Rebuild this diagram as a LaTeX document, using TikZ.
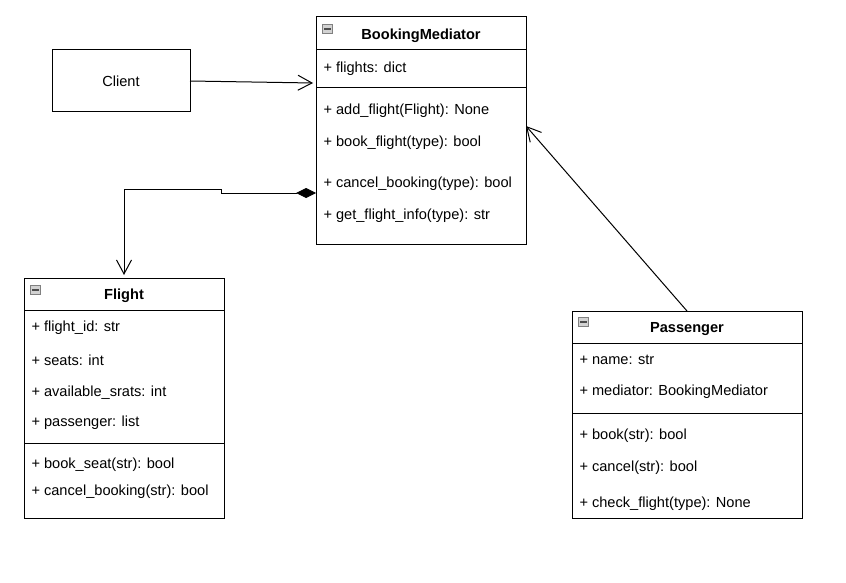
\documentclass[tikz,border=0pt]{standalone}
\usepackage{fontspec}
\setmainfont{Liberation Sans}
\usetikzlibrary{arrows.meta,calc}
\begin{document}
\begin{tikzpicture}[x=1pt,y=-1pt, line width=1pt,
  box/.style={draw, anchor=north west, inner sep=0pt, outer sep=0pt},
  row/.style={anchor=west, inner sep=0pt, font=\fontsize{14.6}{17}\selectfont},
  ttl/.style={inner sep=0pt, font=\bfseries\fontsize{14.6}{17}\selectfont},
  icon/.style={draw=gray, fill=gray!35, line width=0.8pt, minimum width=10pt, minimum height=9pt, inner sep=0pt, anchor=north west},
  openarr/.style={-{Straight Barb[length=14pt,width=15pt,line width=1pt]}}]
\useasboundingbox (0,0) rectangle (846,583);

% BookingMediator
\node[box, minimum width=210pt, minimum height=227pt] (bm) at (316,17) {};
\node[icon] (bmi) at (322,24) {};
\draw[line width=1.5pt, black!70] ($(bmi.west)+(2,0)$) -- ($(bmi.east)+(-2,0)$);
\node[ttl] (bmt) at (421,36) {BookingMediator};
\draw (bm.west |- 0,50) -- (bm.east |- 0,50);
\node[row] (bm1) at (323,69) {+ flights: dict};
\draw (bm.west |- 0,88) -- (bm.east |- 0,88);
\node[row] (bm2) at (323,111) {+ add\_flight(Flight): None};
\node[row] (bm3) at (323,143) {+ book\_flight(type): bool};
\node[row] (bm4) at (323,184) {+ cancel\_booking(type): bool};
\node[row] (bm5) at (323,216) {+ get\_flight\_info(type): str};

% Client
\node[box, minimum width=138pt, minimum height=62pt, font=\fontsize{14.6}{17}\selectfont] (cl) at (52,50) {Client};

% Flight
\node[box, minimum width=200pt, minimum height=240pt] (fl) at (24,278) {};
\node[icon] (fli) at (30,285) {};
\draw[line width=1.5pt, black!70] ($(fli.west)+(2,0)$) -- ($(fli.east)+(-2,0)$);
\node[ttl] (flt) at (124,296) {Flight};
\draw (fl.west |- 0,310) -- (fl.east |- 0,310);
\node[row] (fl1) at (31,328) {+ flight\_id: str};
\node[row] (fl2) at (31,360) {+ seats: int};
\node[row] (fl3) at (31,393) {+ available\_srats: int};
\node[row] (fl4) at (31,423) {+ passenger: list};
\draw (fl.west |- 0,443) -- (fl.east |- 0,443);
\node[row] (fl5) at (31,465) {+ book\_seat(str): bool};
\node[row] (fl6) at (31,492) {+ cancel\_booking(str): bool};

% Passenger
\node[box, minimum width=230pt, minimum height=207pt] (ps) at (572,311) {};
\node[icon] (psi) at (578,317) {};
\draw[line width=1.5pt, black!70] ($(psi.west)+(2,0)$) -- ($(psi.east)+(-2,0)$);
\node[ttl] (pst) at (687,329) {Passenger};
\draw (ps.west |- 0,343) -- (ps.east |- 0,343);
\node[row] (ps1) at (579,360) {+ name: str};
\node[row] (ps2) at (579,392) {+ mediator: BookingMediator};
\draw (ps.west |- 0,413) -- (ps.east |- 0,413);
\node[row] (ps3) at (579,436) {+ book(str): bool};
\node[row] (ps4) at (579,468) {+ cancel(str): bool};
\node[row] (ps5) at (579,504) {+ check\_flight(type): None};

% Connectors
\draw[openarr] (cl.east) -- ($(cl.east -| bm.west)+(-3,2)$);
\draw[openarr] (ps.north) -- (bm.east |- 0,126);
\draw[{Diamond[length=20pt,width=10pt]}-{Straight Barb[length=14pt,width=15pt,line width=1pt]}]
  (bm.west |- 0,193) -- (221,193) -- (221,189) -- (fl.north |- 0,189) -- ($(fl.north)+(0,-3)$);
\end{tikzpicture}
\end{document}
